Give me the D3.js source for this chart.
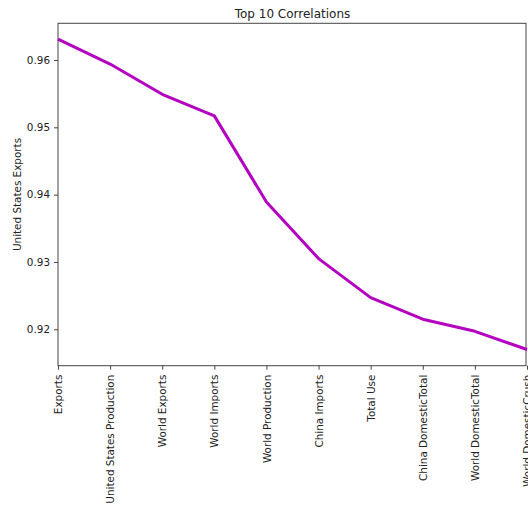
<!DOCTYPE html>
<html><head><meta charset="utf-8">
<script src="https://cdn.jsdelivr.net/npm/d3@7"></script>
<style>body{margin:0;background:#fff}svg{display:block}text{font-family:"DejaVu Sans",sans-serif;fill:#222}</style>
</head><body><svg id="c" width="528" height="506"></svg>
<script>
const categories = ["Exports","United States Production","World Exports","World Imports","World Production","China Imports","Total Use","China DomesticTotal","World DomesticTotal","World DomesticCrush"];
const values = [0.9631,0.9594,0.9549,0.9517,0.9389,0.9305,0.9247,0.9215,0.9197,0.9170];
const yTicks = [0.92,0.93,0.94,0.95,0.96];
const title = "Top 10 Correlations";
const yLabel = "United States Exports";

const L=58, R=527, T=23.3, B=365.7;
const svg = d3.select("#c");
const x = d3.scalePoint().domain(categories).range([L,R]);
const y = d3.scaleLinear().domain([0.91459,0.96545]).range([B,T]);

svg.append("rect").attr("x",L).attr("y",T).attr("width",R-L-1).attr("height",B-T)
  .attr("fill","none").attr("stroke","#444").attr("stroke-width",1);

const gy = svg.append("g").attr("transform",`translate(${L},0)`)
  .call(d3.axisLeft(y).tickValues(yTicks).tickFormat(d3.format(".2f")).tickSize(4).tickPadding(4));
gy.select(".domain").remove();
gy.selectAll("line").attr("stroke","#444");
gy.selectAll("text").attr("font-size","10.4px").attr("fill","#333");

const gx = svg.append("g").attr("transform",`translate(0,${B})`)
  .call(d3.axisBottom(x).tickSize(4).tickPadding(4));
gx.select(".domain").remove();
gx.selectAll("line").attr("stroke","#444");
gx.selectAll("text").attr("font-size","10.4px").attr("fill","#333")
  .attr("transform","rotate(-90)").attr("text-anchor","end")
  .attr("x",-9).attr("y",0).attr("dy","0.35em");

svg.append("path").datum(values)
  .attr("d", d3.line().x((d,i)=>x(categories[i])).y(d=>y(d)))
  .attr("fill","none").attr("stroke","#b400c0").attr("stroke-width",3).attr("stroke-linejoin","round");

svg.append("text").attr("x",(L+R)/2).attr("y",18).attr("text-anchor","middle")
  .attr("font-size","12px").text(title);
svg.append("text").attr("transform",`translate(21,${(T+B)/2}) rotate(-90)`)
  .attr("text-anchor","middle").attr("font-size","10.4px").attr("fill","#333").text(yLabel);
</script></body></html>
